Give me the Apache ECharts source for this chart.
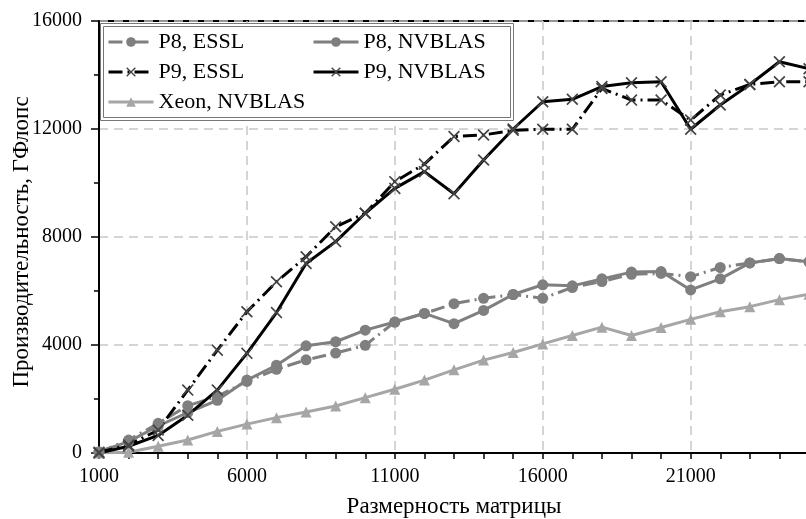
<!DOCTYPE html>
<html>
<head>
<meta charset="utf-8">
<script src="https://cdn.jsdelivr.net/npm/echarts@6/dist/echarts.min.js"></script>
<style>
html,body{margin:0;padding:0;background:#fff;}
#chart{width:806px;height:519px;}
</style>
</head>
<body>
<div id="chart"></div>
<script>
// Matrix sizes (x categories)
var sizes = ['1000','2000','3000','4000','5000','6000','7000','8000','9000','10000',
  '11000','12000','13000','14000','15000','16000','17000','18000','19000','20000',
  '21000','22000','23000','24000','25000'];

// Performance, GFlops
var p8Essl = [30, 480, 1100, 1750, 2100, 2650, 3100, 3450, 3700, 3990,
  4850, 5170, 5530, 5730, 5870, 5730, 6130, 6350, 6620, 6650,
  6530, 6870, 7040, 7200, 7080];
var p8Nvblas = [50, 420, 1000, 1500, 1950, 2700, 3250, 3970, 4120, 4550,
  4850, 5170, 4790, 5280, 5870, 6230, 6190, 6450, 6700, 6720,
  6040, 6450, 7040, 7200, 7080];
var p9Essl = [30, 300, 850, 2330, 3810, 5230, 6340, 7270, 8380, 8880,
  10050, 10700, 11720, 11780, 11950, 11990, 11990, 13500, 13070, 13070,
  12330, 13260, 13650, 13750, 13750];
var p9Nvblas = [0, 250, 650, 1400, 2330, 3690, 5200, 7020, 7830, 8880,
  9800, 10420, 9600, 10850, 12000, 13010, 13100, 13570, 13710, 13750,
  11990, 12890, 13650, 14490, 14230];
var xeonNvblas = [0, 30, 250, 480, 800, 1070, 1310, 1520, 1740, 2050,
  2360, 2700, 3080, 3440, 3720, 4040, 4350, 4660, 4350, 4650,
  4950, 5230, 5420, 5680, 5880];

var names = ['P8, ESSL', 'P8, NVBLAS', 'P9, ESSL', 'P9, NVBLAS', 'Xeon, NVBLAS'];
var xTitle = 'Размерность матрицы';
var yTitle = 'Производительность, ГФлопс';

var FONT = 'Liberation Serif';
var GRAY = '#7f7f7f';
var LIGHT = '#a6a6a6';
var DASHDOT = [14, 5, 2, 5];
var XSYM = 'path://M0,1L1,0L5,4L9,0L10,1L6,5L10,9L9,10L5,6L1,10L0,9L4,5Z';

function mk(name, data, color, dashed, symbol, symSize, symColor) {
  return {
    name: name, type: 'line', data: data,
    symbol: symbol, symbolSize: symSize,
    itemStyle: {color: symColor},
    lineStyle: {color: color, width: 3, type: dashed ? DASHDOT : 'solid'},
    emphasis: {disabled: true},
    animation: false
  };
}

var legendText = {fontFamily: FONT, fontSize: 22, color: '#000'};

var chart = echarts.init(document.getElementById('chart'), null, {renderer: 'canvas'});
chart.setOption({
  backgroundColor: '#fff',
  animation: false,
  grid: {left: 99, right: -3, top: 21, bottom: 66, show: true, borderColor: '#000', borderWidth: 2,
         backgroundColor: 'transparent', containLabel: false, outerBoundsMode: 'none'},
  xAxis: {
    type: 'category', data: sizes, boundaryGap: false,
    name: xTitle, nameLocation: 'middle', nameGap: 42, nameMoveOverlap: false,
    nameTextStyle: {fontFamily: FONT, fontSize: 23, color: '#000'},
    axisLine: {lineStyle: {color: '#000', width: 2}},
    axisTick: {show: true, interval: 0, length: 6, lineStyle: {color: '#000', width: 1.5}},
    axisLabel: {interval: 4, margin: 14, fontFamily: FONT, fontSize: 20, color: '#000'},
    splitLine: {show: true, interval: 4, lineStyle: {color: '#c8c8c8', width: 1.5, type: [9, 6]}}
  },
  yAxis: {
    type: 'value', min: 0, max: 16000, interval: 4000,
    name: yTitle, nameLocation: 'middle', nameGap: 66, nameRotate: 90, nameMoveOverlap: false,
    nameTextStyle: {fontFamily: FONT, fontSize: 23, color: '#000', padding: [0, 10, 0, 0]},
    axisLine: {show: true, lineStyle: {color: '#000', width: 2}},
    axisTick: {show: true, length: 8, lineStyle: {color: '#000', width: 1.5}},
    minorTick: {show: true, splitNumber: 2, length: 5, lineStyle: {color: '#000', width: 1.5}},
    axisLabel: {margin: 17, fontFamily: FONT, fontSize: 20, color: '#000',
                formatter: function (v) { return String(v); }},
    splitLine: {show: true, lineStyle: {color: '#c8c8c8', width: 1.5, type: [9, 6]}}
  },
  legend: [
    {orient: 'vertical', left: 102, top: 26, itemGap: 8, itemWidth: 45, itemHeight: 12, z: 20,
     lineStyle: {width: 3}, data: [names[0], names[2], names[4]], textStyle: legendText},
    {orient: 'vertical', left: 307, top: 26, itemGap: 8, itemWidth: 45, itemHeight: 12, z: 20,
     lineStyle: {width: 3}, data: [names[1], names[3]], textStyle: legendText}
  ],
  graphic: [
    {type: 'rect', shape: {x: 100.5, y: 23.5, width: 413, height: 97}, style: {fill: '#fff', stroke: '#777', lineWidth: 1}, z: 5},
    {type: 'rect', shape: {x: 103.5, y: 26.5, width: 407, height: 91}, style: {fill: 'none', stroke: '#777', lineWidth: 1}, z: 6}
  ],
  series: [
    mk(names[4], xeonNvblas, LIGHT, false, 'triangle', 11, LIGHT),
    mk(names[1], p8Nvblas, GRAY, false, 'circle', 11, GRAY),
    mk(names[0], p8Essl, GRAY, true, 'circle', 11, GRAY),
    mk(names[3], p9Nvblas, '#000', false, XSYM, 12, '#444'),
    mk(names[2], p9Essl, '#000', true, XSYM, 12, '#444')
  ]
});
</script>
</body>
</html>
